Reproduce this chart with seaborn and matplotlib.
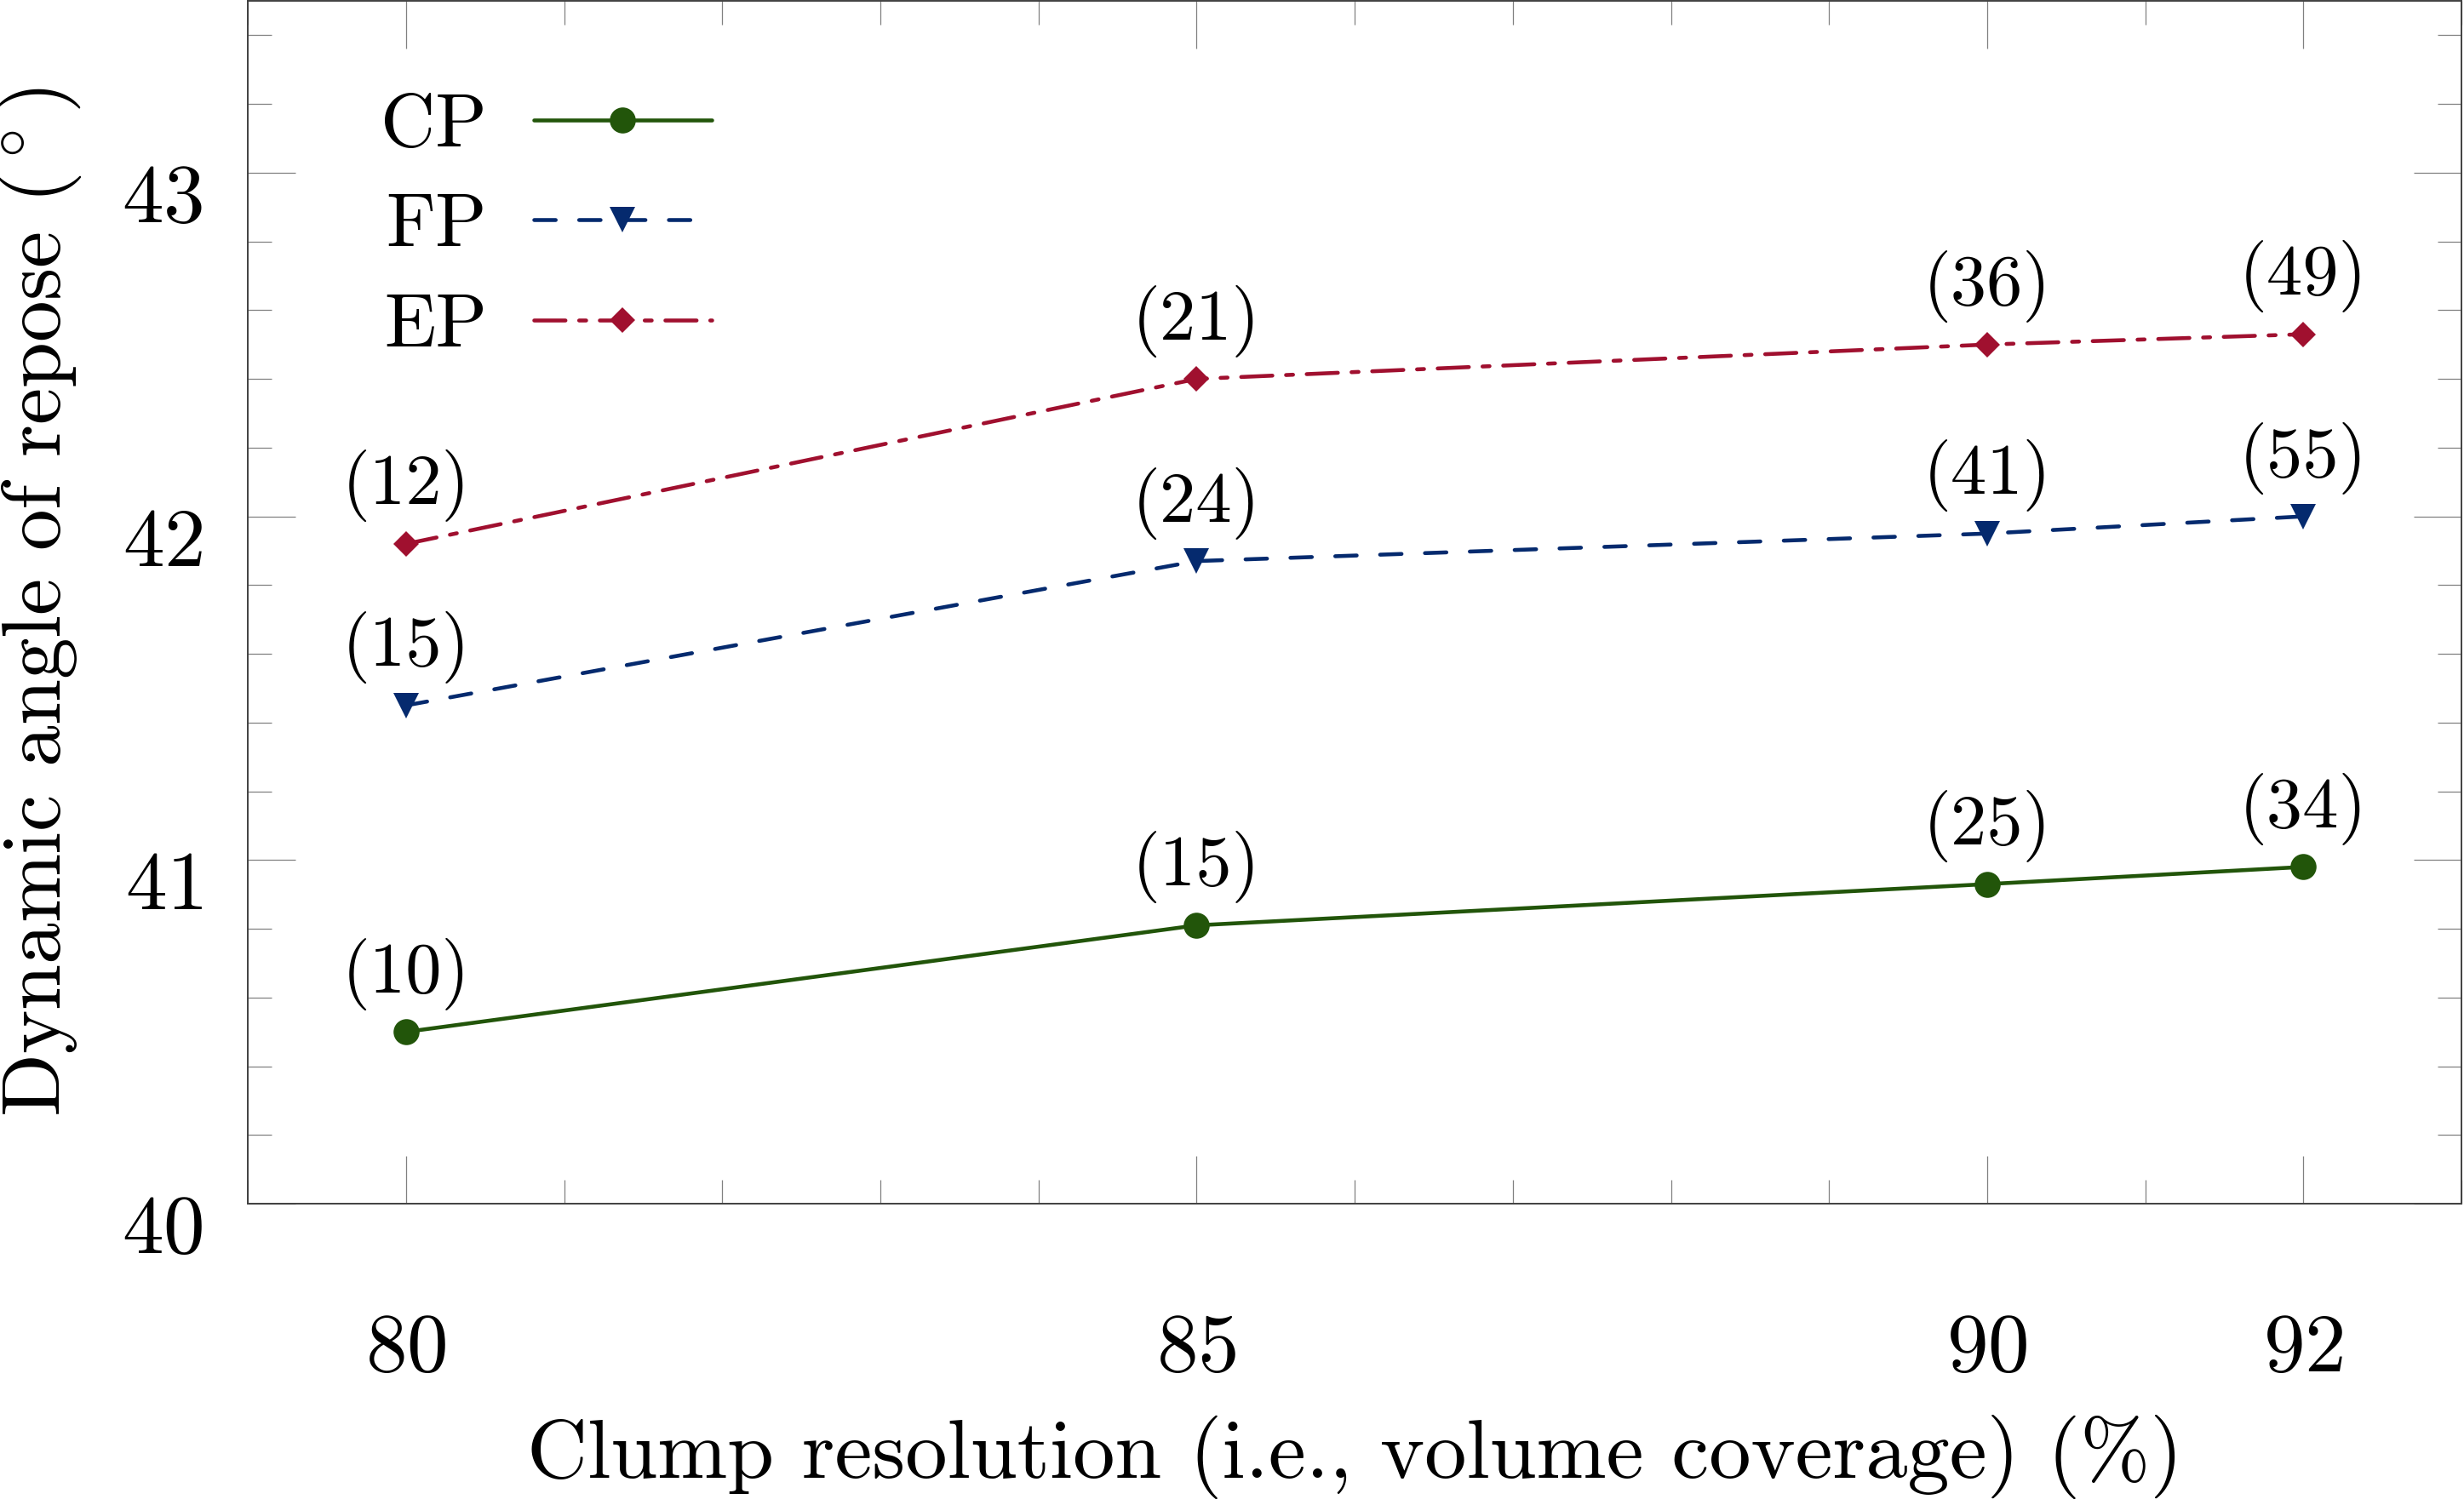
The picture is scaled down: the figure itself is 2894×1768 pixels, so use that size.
import numpy as np
import matplotlib
matplotlib.use('Agg')
import matplotlib.pyplot as plt
import matplotlib.transforms as mtrans
from matplotlib.ticker import FixedLocator, MultipleLocator
import seaborn as sns

# data
resolution = [80, 85, 90, 92]
cp_angle = [40.50, 40.81, 40.93, 40.98]
fp_angle = [41.45, 41.87, 41.95, 42.00]
ep_angle = [41.92, 42.40, 42.50, 42.53]
cp_count = [10, 15, 25, 34]
fp_count = [15, 24, 41, 55]
ep_count = [12, 21, 36, 49]

x_ticks = [80, 85, 90, 92]
y_ticks = [40, 41, 42, 43]

sns.set_style('ticks')
plt.rcParams['font.family'] = ['cmr10', 'DejaVu Serif']
plt.rcParams['mathtext.fontset'] = 'cm'
plt.rcParams['axes.formatter.use_mathtext'] = True
plt.rcParams['axes.unicode_minus'] = False
plt.rcParams['text.color'] = 'black'
plt.rcParams['axes.labelcolor'] = 'black'
plt.rcParams['xtick.labelcolor'] = 'black'
plt.rcParams['ytick.labelcolor'] = 'black'

green = '#22550a'
blue = '#052a6e'
red = '#a0102f'

fig = plt.figure(figsize=(28.94, 17.68), dpi=100)
ax = fig.add_axes([0.1006, 0.2002, 0.8984, 0.7992])

series = [
    ('CP', cp_angle, cp_count, green, 'o', 22, '-'),
    ('FP', fp_angle, fp_count, blue, 'v', 22, (0, (5.5, 6))),
    ('EP', ep_angle, ep_count, red, 'D', 15.5, (0, (8, 3.5, 1.8, 3.5))),
]

for name, vals, counts, col, mk, ms, ls in series:
    sns.lineplot(x=resolution, y=vals, ax=ax, color=col, marker=mk,
                 markersize=ms, markeredgewidth=0, linewidth=3.3,
                 linestyle=ls, label=name)
    ln = ax.lines[-1]
    ln.set_dash_capstyle('round')
    ln.set_solid_capstyle('round')
    for xv, yv, c in zip(resolution, vals, counts):
        ax.annotate(f'({c})', (xv, yv), xytext=(0, 49), textcoords='offset points',
                    ha='center', va='center', fontsize=61)

ax.set_xlim(79, 93)
ax.set_ylim(40, 43.5)
ax.xaxis.set_major_locator(FixedLocator(x_ticks))
ax.xaxis.set_minor_locator(MultipleLocator(1))
ax.yaxis.set_major_locator(FixedLocator(y_ticks))
ax.yaxis.set_minor_locator(MultipleLocator(0.2))

ax.tick_params(which='both', direction='in', top=True, right=True,
               color='#808080', width=0.9)
ax.tick_params(which='major', length=40, labelsize=70)
ax.tick_params(which='minor', length=20)
ax.tick_params(axis='x', which='major', pad=93)
ax.tick_params(axis='y', which='major', pad=38)

for sp in ax.spines.values():
    sp.set_color('#404040')
    sp.set_linewidth(1.4)

# y tick labels sit a little below their ticks in the reference
shift = mtrans.ScaledTranslation(0, -24 / 100, fig.dpi_scale_trans)
for lab in ax.get_yticklabels():
    lab.set_transform(lab.get_transform() + shift)

ax.set_xlabel('Clump resolution (i.e., volume coverage) (%)', fontsize=71)
ax.set_ylabel(r'Dynamic angle of repose $(^\circ)$', fontsize=70)
ax.xaxis.label.set_va('center')
ax.xaxis.set_label_coords(0.5, -0.2105)
ax.yaxis.label.set_va('center')
ax.yaxis.set_label_coords(-0.0942, 0.5)

ax.legend(loc='center left', bbox_to_anchor=(0.06, 0.812), frameon=False,
          markerfirst=False, fontsize=64, handlelength=2.35, handletextpad=0.62,
          borderpad=0, borderaxespad=0, labelspacing=0.43)

fig.savefig('out.png', dpi=100)
